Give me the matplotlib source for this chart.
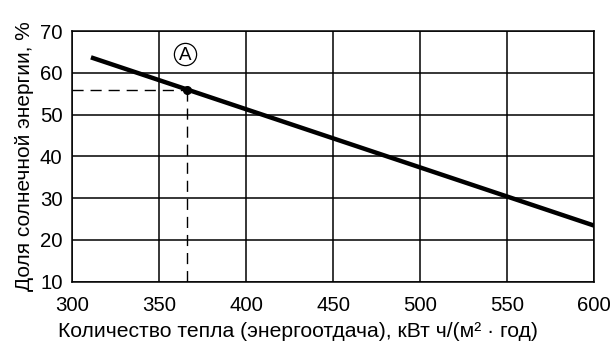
import matplotlib
matplotlib.use("Agg")
import matplotlib.pyplot as plt

plt.rcParams['font.family'] = ['Liberation Sans', 'DejaVu Sans']

# Data
line_x = [310.7, 600]
line_y = [63.7, 23.4]
point_x = 366
point_y = 55.9
label_text = "A"
label_x = 365
label_y = 64.6
x_ticks = [300, 350, 400, 450, 500, 550, 600]
y_ticks = [10, 20, 30, 40, 50, 60, 70]
x_label = "Количество тепла (энергоотдача), кВт ч/(м² · год)"
y_label = "Доля солнечной энергии, %"

fig = plt.figure(figsize=(6.14, 3.41), dpi=100)
ax = fig.add_axes([0.1178, 0.174, 0.968 - 0.1178, 0.909 - 0.174])
ax.set_xlim(300, 600)
ax.set_ylim(10, 70)
ax.set_xticks(x_ticks)
ax.set_yticks(y_ticks)
ax.grid(True, color='black', linewidth=1.1)
ax.set_axisbelow(True)
for s in ax.spines.values():
    s.set_linewidth(1.1)
ax.tick_params(length=0, labelsize=14.7)
ax.tick_params(axis='x', pad=10)
ax.tick_params(axis='y', pad=7)

ax.plot(line_x, line_y, color='black', linewidth=3.2, solid_capstyle='butt', zorder=3)
ax.plot([300, point_x], [point_y, point_y], color='black', linewidth=1.0, dashes=(8, 5), zorder=3)
ax.plot([point_x, point_x], [point_y, 10], color='black', linewidth=1.0, dashes=(8, 5), zorder=3)
ax.plot([point_x], [point_y], 'o', color='black', markersize=5.5, zorder=4)

ax.plot([label_x], [label_y], 'o', markersize=16, markerfacecolor='white',
        markeredgecolor='black', markeredgewidth=0.9, zorder=5, clip_on=False)
ax.text(label_x, label_y, label_text, ha='center', va='center_baseline', fontsize=13.5, zorder=6)

ax.set_xlabel(x_label, fontsize=15.2)
ax.xaxis.label.set_va('baseline')
ax.xaxis.set_label_coords(0.432, -0.2194)
ax.set_ylabel(y_label, fontsize=15, labelpad=4)

fig.savefig("out.png", dpi=100)
